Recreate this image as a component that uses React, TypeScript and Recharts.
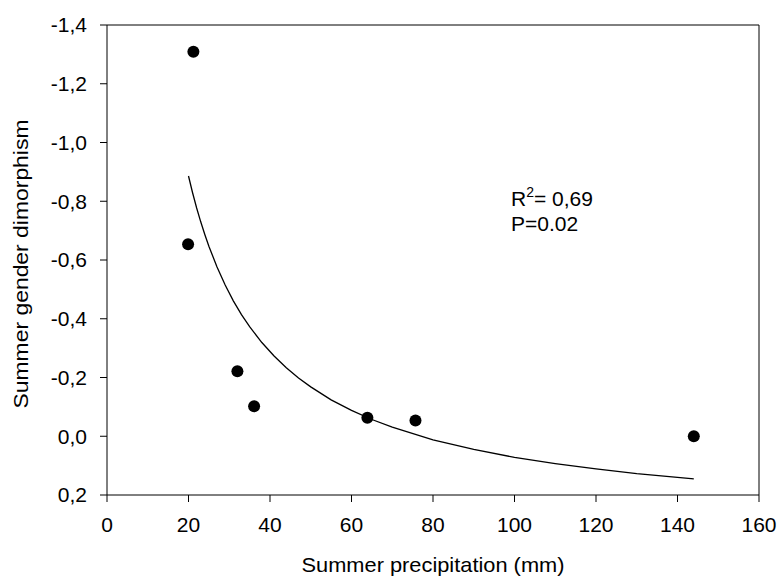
import React from 'react';
import { ScatterChart, Scatter, XAxis, YAxis, ReferenceLine, Label } from 'recharts';

const precipitation = [21.2, 19.9, 32.0, 36.1, 63.9, 75.7, 144.0];
const dimorphism = [-1.309, -0.654, -0.221, -0.102, -0.063, -0.054, 0.0];

const fitX = [20, 21, 22, 23, 24, 25, 27, 29, 31, 33, 35, 38, 41, 44, 47, 50, 55, 60, 65, 70, 80, 90, 100, 110, 120, 130, 144];
const fitY = [-0.886, -0.829, -0.777, -0.730, -0.687, -0.647, -0.576, -0.515, -0.461, -0.414, -0.373, -0.319, -0.273, -0.233, -0.198, -0.168, -0.124, -0.088, -0.057, -0.031, 0.012, 0.045, 0.072, 0.093, 0.111, 0.127, 0.145];

const xTicks = [0, 20, 40, 60, 80, 100, 120, 140, 160];
const yTicks = [-1.4, -1.2, -1.0, -0.8, -0.6, -0.4, -0.2, 0.0, 0.2];

const xTitle = 'Summer precipitation (mm)';
const yTitle = 'Summer gender dimorphism';
const r2Text = '= 0,69';
const pText = 'P=0.02';

const points = precipitation.map((x, i) => ({ x, y: dimorphism[i] }));
const fit = fitX.map((x, i) => ({ x, y: fitY[i] }));

const FONT = '"Liberation Sans", Arial, sans-serif';
const FS = 21;

const fmtY = (v: number) => {
  const s = Math.abs(v) < 1e-9 ? '0.0' : v.toFixed(1);
  return s.replace('.', ',');
};

export default function App() {
  return (
    <div style={{ position: 'absolute', left: 0, top: 0, width: 779, height: 577, background: '#fff' }}>
      <ScatterChart
        width={779}
        height={577}
        margin={{ top: 25, right: 20, bottom: 0, left: 0 }}
        style={{ fontFamily: FONT }}
      >
        <XAxis
          type="number"
          dataKey="x"
          domain={[0, 160]}
          ticks={xTicks}
          interval={0}
          height={82}
          tickSize={7}
          tickMargin={15}
          stroke="#000"
          tick={{ fill: '#000', fontSize: FS, fontFamily: FONT }}
          tickLine={{ stroke: '#000' }}
          axisLine={{ stroke: '#000' }}
          allowDataOverflow
        >
          <Label
            content={() => (
              <g>
                <text
                  x={433}
                  y={572}
                  textAnchor="middle"
                  fontSize={FS}
                  fill="#000"
                  fontFamily={FONT}
                  textLength={263}
                  lengthAdjust="spacingAndGlyphs"
                >
                  {xTitle}
                </text>
                <text
                  x={0}
                  y={0}
                  textAnchor="middle"
                  fontSize={20}
                  fill="#000"
                  fontFamily={FONT}
                  textLength={289}
                  lengthAdjust="spacingAndGlyphs"
                  transform="translate(28, 264) rotate(-90)"
                >
                  {yTitle}
                </text>
                <text x={511} y={206} fontSize={FS} fill="#000" fontFamily={FONT}>
                  R<tspan dy={-9} fontSize={14}>2</tspan>
                  <tspan dy={9}>{r2Text}</tspan>
                </text>
                <text x={511} y={231} fontSize={FS} fill="#000" fontFamily={FONT}>
                  {pText}
                </text>
              </g>
            )}
          />
        </XAxis>
        <YAxis
          type="number"
          dataKey="y"
          domain={[-1.4, 0.2]}
          reversed
          ticks={yTicks}
          interval={0}
          width={107}
          tickSize={7}
          tickMargin={13}
          tickFormatter={fmtY}
          stroke="#000"
          tick={{ fill: '#000', fontSize: FS, fontFamily: FONT }}
          tickLine={{ stroke: '#000' }}
          axisLine={{ stroke: '#000' }}
          allowDataOverflow
        />
        <ReferenceLine y={-1.4} stroke="#000" strokeWidth={1} />
        <ReferenceLine x={160} stroke="#000" strokeWidth={1} />
        <Scatter
          data={fit}
          line={{ stroke: '#000', strokeWidth: 1.3 }}
          lineType="joint"
          shape={() => null}
          isAnimationActive={false}
        />
        <Scatter
          data={points}
          fill="#000"
          shape={(p: any) => <circle cx={p.cx} cy={p.cy} r={6} fill="#000" />}
          isAnimationActive={false}
        />
      </ScatterChart>
    </div>
  );
}
